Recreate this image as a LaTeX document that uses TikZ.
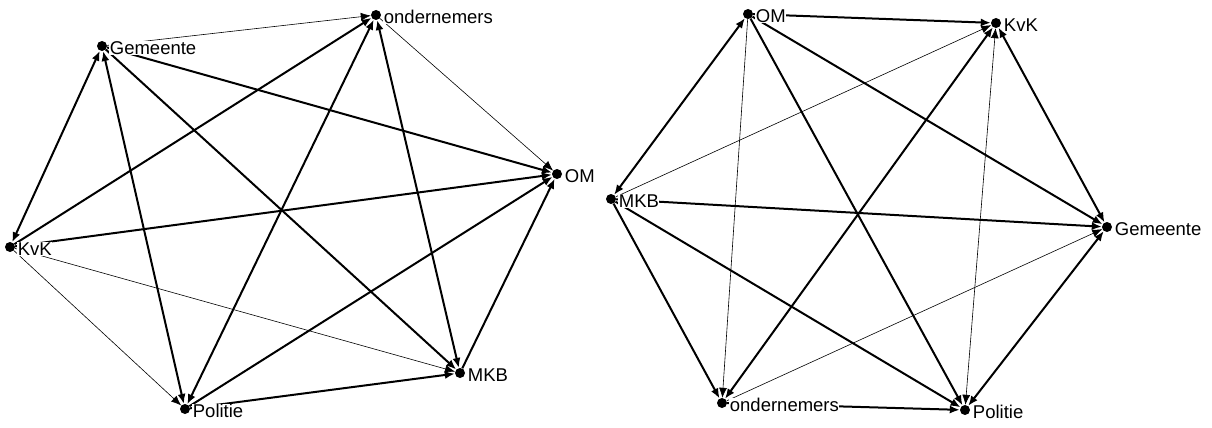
\documentclass[tikz,border=0pt]{standalone}
\usepackage{fontspec}
\setmainfont{Liberation Sans}
\usetikzlibrary{positioning,arrows.meta}

\begin{document}
\begin{tikzpicture}[x=1pt,y=-1pt,
        >={Latex[length=10pt,width=8pt]},
        dot/.style={circle,fill=black,minimum size=10pt,inner sep=0pt},
        lab/.style={fill=white,inner sep=0.5pt,yshift=-2pt,font=\fontsize{18.5}{21}\selectfont},
        strong/.style={line width=2pt},
        weak/.style={line width=0.6pt}]
        \useasboundingbox (0,0) rectangle (1212,428);

        % left network
        \node [dot] (Ond1) at (376,15) {};
        \node [dot] (Gem1) at (102,46) {};
        \node [dot] (OM1) at (557,174) {};
        \node [dot] (KvK1) at (10,247) {};
        \node [dot] (Pol1) at (185,409) {};
        \node [dot] (MKB1) at (460,373) {};

        \draw [->, weak] (Gem1) -- (Ond1);
        \draw [->, strong] (Gem1) -- (OM1);
        \draw [->, strong] (Gem1) -- (MKB1);
        \draw [<->, strong] (Gem1) -- (Pol1);
        \draw [<->, strong] (KvK1) -- (Gem1);
        \draw [->, strong] (KvK1) -- (Ond1);
        \draw [->, strong] (KvK1) -- (OM1);
        \draw [->, weak] (KvK1) -- (MKB1);
        \draw [->, weak] (KvK1) -- (Pol1);
        \draw [<->, strong] (Pol1) -- (Ond1);
        \draw [<->, strong] (Ond1) -- (MKB1);
        \draw [->, weak] (Ond1) -- (OM1);
        \draw [->, strong] (MKB1) -- (OM1);
        \draw [->, strong] (Pol1) -- (OM1);
        \draw [->, strong] (Pol1) -- (MKB1);

        \node [lab, right=2pt of Ond1] (OndL1) {ondernemers};
        \node [lab, right=2pt of Gem1] (GemL1) {Gemeente};
        \node [lab, right=2pt of OM1] (OML1) {OM};
        \node [lab, right=2pt of KvK1] (KvKL1) {KvK};
        \node [lab, right=2pt of Pol1] (PolL1) {Politie};
        \node [lab, right=2pt of MKB1] (MKBL1) {MKB};

        % right network
        \node [dot] (OM2) at (748,14) {};
        \node [dot] (KvK2) at (996,23) {};
        \node [dot] (MKB2) at (611,199) {};
        \node [dot] (Gem2) at (1107,227) {};
        \node [dot] (Ond2) at (722,403) {};
        \node [dot] (Pol2) at (965,410) {};

        \draw [->, strong] (OM2) -- (KvK2);
        \draw [->, strong] (OM2) -- (Gem2);
        \draw [->, strong] (OM2) -- (Pol2);
        \draw [->, weak] (OM2) -- (Ond2);
        \draw [<->, strong] (OM2) -- (MKB2);
        \draw [->, weak] (MKB2) -- (KvK2);
        \draw [<->, strong] (KvK2) -- (Ond2);
        \draw [<->, weak] (KvK2) -- (Pol2);
        \draw [<->, strong] (KvK2) -- (Gem2);
        \draw [->, strong] (MKB2) -- (Gem2);
        \draw [->, strong] (MKB2) -- (Ond2);
        \draw [->, strong] (MKB2) -- (Pol2);
        \draw [->, weak] (Ond2) -- (Gem2);
        \draw [<->, strong] (Pol2) -- (Gem2);
        \draw [->, strong] (Ond2) -- (Pol2);

        \node [lab, right=2pt of OM2] (OML2) {OM};
        \node [lab, right=2pt of KvK2] (KvKL2) {KvK};
        \node [lab, right=2pt of MKB2] (MKBL2) {MKB};
        \node [lab, right=2pt of Gem2] (GemL2) {Gemeente};
        \node [lab, right=2pt of Ond2] (OndL2) {ondernemers};
        \node [lab, right=2pt of Pol2] (PolL2) {Politie};
    \end{tikzpicture}
\end{document}
